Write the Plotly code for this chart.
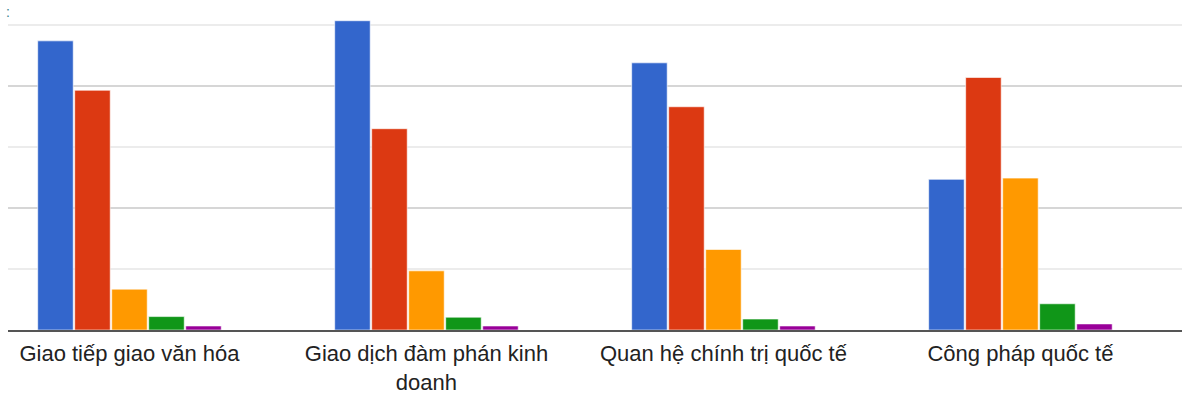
import plotly.graph_objects as go

# Survey categories (x axis)
categories = [
    "Giao tiếp giao văn hóa",
    "Giao dịch đàm phán kinh<br>doanh",
    "Quan hệ chính trị quốc tế",
    "Công pháp quốc tế",
]

# Five response series, one bar per category each
series_1 = [47.4, 50.7, 43.8, 24.7]
series_2 = [39.3, 33.0, 36.6, 41.4]
series_3 = [6.7, 9.7, 13.2, 24.9]
series_4 = [2.2, 2.1, 1.8, 4.3]
series_5 = [0.66, 0.66, 0.66, 1.0]

series = [series_1, series_2, series_3, series_4, series_5]
colors = ["#3366cc", "#dc3912", "#ff9900", "#109618", "#990099"]

fig = go.Figure()
for vals, col in zip(series, colors):
    fig.add_trace(go.Bar(
        x=categories,
        y=vals,
        marker=dict(color=col, line=dict(color="rgba(255,255,255,0.6)", width=1)),
        showlegend=False,
        hoverinfo="skip",
    ))

fig.update_layout(
    width=1195,
    height=400,
    margin=dict(l=8, r=13, t=0, b=70),
    paper_bgcolor="white",
    plot_bgcolor="white",
    barmode="group",
    bargap=0.377,
    bargroupgap=0.04,
    font=dict(family="Liberation Sans, Arial, sans-serif", color="#222222"),
)

fig.update_xaxes(
    range=[-0.409, 3.544],
    showgrid=False,
    showline=True,
    linecolor="#555555",
    linewidth=2,
    ticks="",
    ticklabelstandoff=3,
    tickfont=dict(size=22, color="#222222"),
    fixedrange=True,
)

fig.update_yaxes(
    range=[0, 54.1],
    dtick=20,
    tick0=0,
    showgrid=True,
    gridcolor="#d6d6d6",
    gridwidth=1.5,
    minor=dict(dtick=10, tick0=0, showgrid=True, gridcolor="#ececec", gridwidth=1.5),
    showticklabels=False,
    zeroline=False,
    showline=False,
    fixedrange=True,
)

fig.add_annotation(
    text=":", xref="paper", yref="paper", x=0, y=0.995,
    xanchor="center", yanchor="top", showarrow=False,
    font=dict(size=14, color="#3a7f8f"),
)

fig.write_html("out.html")
